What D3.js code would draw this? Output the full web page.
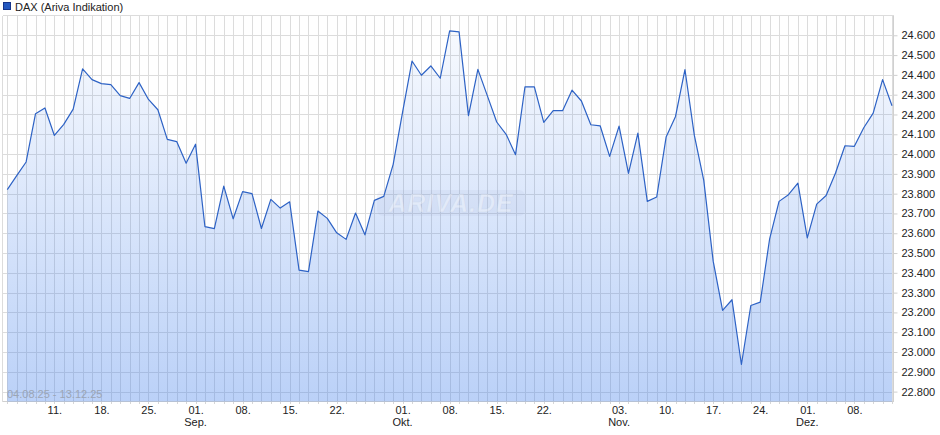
<!DOCTYPE html>
<html><head><meta charset="utf-8">
<script src="https://cdn.jsdelivr.net/npm/d3@7"></script>
<style>
html,body{margin:0;padding:0;background:#fff;}
svg{display:block;font-family:"Liberation Sans",Arial,sans-serif;}
</style></head>
<body>
<svg id="chart" width="940" height="435"></svg>
<script>
const seriesName = "DAX (Ariva Indikation)";
const rangeLabel = "04.08.25 - 13.12.25";
const startDate = "2025-08-04";
const values = [23820, 23891, 23960, 24204, 24233, 24094, 24150, 24227, 24430, 24376,
  24356, 24351, 24295, 24281, 24361, 24276, 24224, 24074, 24063, 23954,
  24050, 23633, 23623, 23838, 23673, 23810, 23800, 23624, 23771, 23727,
  23759, 23414, 23406, 23712, 23675, 23602, 23569, 23702, 23592, 23766,
  23786, 23948, 24212, 24470, 24398, 24445, 24383, 24622, 24617, 24194,
  24428, 24295, 24162, 24100, 23997, 24339, 24339, 24160, 24219, 24219,
  24323, 24268, 24148, 24142, 23988, 24141, 23902, 24106, 23761, 23783,
  24086, 24190, 24427, 24094, 23867, 23459, 23210, 23264, 22937, 23235,
  23252, 23572, 23761, 23795, 23853, 23577, 23747, 23791, 23904, 24042,
  24039, 24133, 24207, 24376, 24244];
const tickDates = ["2025-08-11","2025-08-18","2025-08-25","2025-09-01","2025-09-08","2025-09-15","2025-09-22",
  "2025-10-01","2025-10-08","2025-10-15","2025-10-22","2025-11-03","2025-11-10","2025-11-17","2025-11-24",
  "2025-12-01","2025-12-08"];
const tickLabels = ["11.","18.","25.","01.","08.","15.","22.","01.","08.","15.","22.","03.","10.","17.","24.","01.","08."];
const monthLabels = ["","","","Sep.","","","","Okt.","","","","Nov.","","","","Dez.",""];
const yTicks = [22800,22900,23000,23100,23200,23300,23400,23500,23600,23700,23800,23900,24000,24100,24200,24300,24400,24500,24600];

// trading days (Mon-Fri) from start, one per value
const parse = d3.utcParse("%Y-%m-%d");
const fmtKey = d3.utcFormat("%Y-%m-%d");
const days = [];
{ let d = parse(startDate);
  while (days.length < values.length) {
    const wd = d.getUTCDay();
    if (wd !== 0 && wd !== 6) days.push(fmtKey(d));
    d = d3.utcDay.offset(d, 1);
  }
}
const data = values.map((v, i) => ({i, date: days[i], v}));

const frame = {left: 2.5, right: 893.5, top: 15.5, bottom: 401.5};
const x = d3.scaleLinear().domain([0, values.length - 1]).range([7.3, 892]);
const y = d3.scaleLinear().domain([22750, 24700]).range([frame.bottom, frame.top]);
const fmtNum = v => d3.format(",.3f")(v / 1000).replace(/,/g, "");

const svg = d3.select("#chart");
const defs = svg.append("defs");
const grad = defs.append("linearGradient").attr("id", "fillGrad")
  .attr("gradientUnits", "userSpaceOnUse").attr("x1", 0).attr("x2", 0)
  .attr("y1", frame.top).attr("y2", frame.bottom);
grad.append("stop").attr("offset", 0).attr("stop-color", "rgb(70,130,235)").attr("stop-opacity", 0.03);
grad.append("stop").attr("offset", 1).attr("stop-color", "rgb(70,130,235)").attr("stop-opacity", 0.37);

// grid
const grid = svg.append("g").attr("shape-rendering", "crispEdges");
grid.selectAll("line.v").data(data).join("line")
  .attr("x1", d => Math.round(x(d.i)) + 0.5).attr("x2", d => Math.round(x(d.i)) + 0.5)
  .attr("y1", frame.top).attr("y2", frame.bottom)
  .attr("stroke", "#dcdcdc");
grid.selectAll("line.h").data(yTicks).join("line")
  .attr("x1", frame.left).attr("x2", frame.right)
  .attr("y1", d => Math.round(y(d)) + 0.5).attr("y2", d => Math.round(y(d)) + 0.5)
  .attr("stroke", "#dcdcdc");
// frame
grid.append("line").attr("x1", frame.left).attr("x2", frame.left).attr("y1", frame.top).attr("y2", frame.bottom).attr("stroke", "#dcdcdc");
grid.append("line").attr("x1", frame.left).attr("x2", frame.right).attr("y1", frame.top).attr("y2", frame.top).attr("stroke", "#dcdcdc");
grid.append("line").attr("x1", frame.right).attr("x2", frame.right).attr("y1", frame.top).attr("y2", frame.bottom).attr("stroke", "#d0d0d0");
grid.append("line").attr("x1", frame.left).attr("x2", frame.right).attr("y1", frame.bottom).attr("y2", frame.bottom).attr("stroke", "#d0d0d0");

// area + line
const area = d3.area().x(d => x(d.i)).y0(frame.bottom).y1(d => y(d.v));
svg.append("path").datum(data).attr("d", area).attr("fill", "url(#fillGrad)");

// watermark
const wm = svg.append("g");
wm.append("rect").attr("x", 377).attr("y", 190).attr("width", 148).attr("height", 26).attr("rx", 6)
  .attr("fill", "rgba(140,160,195,0.09)");
wm.append("text").attr("x", 451).attr("y", 212).attr("text-anchor", "middle")
  .attr("font-size", 25).attr("font-weight", "bold").attr("font-style", "italic")
  .attr("fill", "rgba(255,255,255,0.35)").attr("stroke", "rgba(150,170,200,0.15)").attr("stroke-width", 0.8)
  .attr("letter-spacing", 1).text("ARIVA.DE");

const line = d3.line().x(d => x(d.i)).y(d => y(d.v));
svg.append("path").datum(data).attr("d", line).attr("fill", "none")
  .attr("stroke", "#2d62c5").attr("stroke-width", 1.2).attr("stroke-linejoin", "round");

// bottom small ticks
svg.append("g").attr("shape-rendering", "crispEdges").selectAll("line").data(data).join("line")
  .attr("x1", d => Math.round(x(d.i)) + 0.5).attr("x2", d => Math.round(x(d.i)) + 0.5)
  .attr("y1", frame.bottom).attr("y2", frame.bottom + 2.5).attr("stroke", "#d6d6d6");

// right axis
const yAxis = svg.append("g").attr("transform", `translate(${frame.right},0)`)
  .call(d3.axisRight(y).tickValues(yTicks).tickSize(4).tickPadding(4).tickFormat(fmtNum));
yAxis.select(".domain").remove();
yAxis.selectAll(".tick line").attr("stroke", "#cfcfcf");
yAxis.selectAll(".tick text").attr("font-size", 11).attr("fill", "#222")
  .attr("font-family", "'Liberation Sans',Arial,sans-serif");

// bottom axis labels
const tickIdx = tickDates.map(t => days.indexOf(t));
const xAxis = svg.append("g").attr("transform", `translate(0,${frame.bottom})`)
  .call(d3.axisBottom(x).tickValues(tickIdx).tickSize(0).tickFormat((d, k) => tickLabels[k]));
xAxis.select(".domain").remove();
xAxis.selectAll(".tick text").attr("y", 12).attr("dy", 0).attr("font-size", 11).attr("fill", "#222")
  .attr("font-family", "'Liberation Sans',Arial,sans-serif");
svg.append("g").selectAll("text").data(tickIdx.map((t, k) => ({t, m: monthLabels[k]})).filter(d => d.m))
  .join("text").attr("x", d => x(d.t)).attr("y", 426).attr("text-anchor", "middle")
  .attr("font-size", 11).attr("fill", "#222").text(d => d.m);

// range label
svg.append("text").attr("x", 7).attr("y", 398).attr("font-size", 11).attr("fill", "#9ba5b5").text(rangeLabel);

// legend
svg.append("rect").attr("x", 3.5).attr("y", 2.5).attr("width", 7).attr("height", 7)
  .attr("fill", "#2458c0").attr("stroke", "#16348a").attr("stroke-width", 1);
svg.append("text").attr("x", 15).attr("y", 10.5).attr("font-size", 11).attr("fill", "#222").text(seriesName);
</script>
</body></html>
